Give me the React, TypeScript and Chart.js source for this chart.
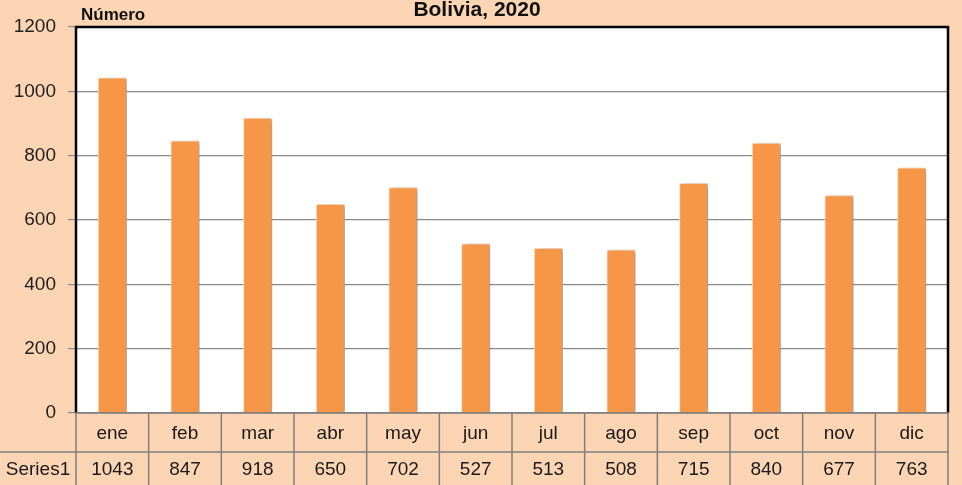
import React, { useEffect, useRef } from "react";
import { Chart, registerables } from "chart.js";

Chart.register(...registerables);

const categories = ["ene", "feb", "mar", "abr", "may", "jun", "jul", "ago", "sep", "oct", "nov", "dic"];
const seriesName = "Series1";
const values = [1043, 847, 918, 650, 702, 527, 513, 508, 715, 840, 677, 763];
const title = "Bolivia, 2020";
const yAxisTitle = "Número";

const FONT = "'Liberation Sans', 'DejaVu Sans', sans-serif";
const BG = "#FCD5B5";
const GRID = "#8a8a8a";

export default function App() {
  const ref = useRef<HTMLCanvasElement | null>(null);

  useEffect(() => {
    document.body.style.margin = "0";
    const canvas = ref.current;
    if (!canvas) return;

    const bgPlugin = {
      id: "bg",
      beforeDraw(chart: any) {
        const { ctx, width, height, chartArea } = chart;
        ctx.save();
        ctx.fillStyle = BG;
        ctx.fillRect(0, 0, width, height);
        ctx.fillStyle = "#ffffff";
        ctx.fillRect(chartArea.left, chartArea.top, chartArea.right - chartArea.left, chartArea.bottom - chartArea.top);
        ctx.restore();
      },
    };

    const shadowPlugin = {
      id: "shadow",
      beforeDatasetDraw(chart: any) {
        const ctx = chart.ctx;
        ctx.save();
        ctx.shadowColor = "rgba(0,0,0,0.35)";
        ctx.shadowBlur = 4;
        ctx.shadowOffsetX = 3;
        ctx.shadowOffsetY = 1;
      },
      afterDatasetDraw(chart: any) {
        chart.ctx.restore();
      },
    };

    const tablePlugin = {
      id: "table",
      afterDraw(chart: any) {
        const { ctx, chartArea, height } = chart;
        const x = chart.scales.x;
        const n = categories.length;
        const left = chartArea.left;
        const right = chartArea.right;
        const colW = (right - left) / n;
        const top = chartArea.bottom;
        const mid = top + 39;
        const bottom = height;
        ctx.save();
        // border of plot
        ctx.strokeStyle = "#000000";
        ctx.lineWidth = 2.5;
        ctx.beginPath();
        ctx.moveTo(left, chartArea.bottom);
        ctx.lineTo(left, chartArea.top);
        ctx.lineTo(right, chartArea.top);
        ctx.lineTo(right, chartArea.bottom);
        ctx.stroke();
        // table lines
        ctx.strokeStyle = "#7f7f7f";
        ctx.lineWidth = 1.5;
        ctx.beginPath();
        ctx.moveTo(left - 1, top);
        ctx.lineTo(right + 1, top);
        ctx.moveTo(0, mid);
        ctx.lineTo(right + 1, mid);
        for (let i = 0; i <= n; i++) {
          const xx = left + i * colW;
          ctx.moveTo(xx, top);
          ctx.lineTo(xx, bottom);
        }
        ctx.stroke();
        // text
        ctx.fillStyle = "#1a1a1a";
        ctx.font = `19px ${FONT}`;
        ctx.textAlign = "center";
        ctx.textBaseline = "middle";
        for (let i = 0; i < n; i++) {
          const cx = x.getPixelForValue(i);
          ctx.fillText(categories[i], cx, (top + mid) / 2 + 1);
          ctx.fillText(String(values[i]), cx, (mid + bottom) / 2 + 1);
        }
        ctx.fillText(seriesName, left / 2, (mid + bottom) / 2 + 1);
        // titles
        ctx.font = `bold 21px ${FONT}`;
        ctx.fillStyle = "#111111";
        ctx.fillText(title, 477, 10);
        ctx.font = `bold 17px ${FONT}`;
        ctx.textAlign = "left";
        ctx.fillText(yAxisTitle, 81, 15);
        ctx.restore();
      },
    };

    const chart = new Chart(canvas, {
      type: "bar",
      data: {
        labels: categories,
        datasets: [
          {
            label: seriesName,
            data: values,
            backgroundColor: "#F79646",
            borderColor: "#FDE3CF",
            borderWidth: 1,
            barPercentage: 0.8,
            categoryPercentage: 0.5,
          },
        ],
      },
      options: {
        animation: false,
        responsive: false,
        maintainAspectRatio: false,
        layout: { padding: { top: 27, right: 14, bottom: 72, left: 0 } },
        plugins: {
          legend: { display: false },
          tooltip: { enabled: false },
          title: { display: false },
        },
        scales: {
          x: {
            display: false,
            offset: true,
          },
          y: {
            min: 0,
            max: 1200,
            ticks: {
              stepSize: 200,
              color: "#222222",
              font: { family: FONT, size: 19 },
              padding: 12,
              callback: (v: any) => String(v),
            },
            grid: {
              color: GRID,
              lineWidth: 1.2,
              drawTicks: true,
              tickLength: 8,
              tickColor: GRID,
            },
            border: { display: false },
            afterFit(scale: any) {
              scale.width = 76;
            },
          },
        },
      },
      plugins: [bgPlugin, shadowPlugin, tablePlugin],
    });

    return () => chart.destroy();
  }, []);

  return (
    <div style={{ width: 962, height: 485 }}>
      <canvas ref={ref} width={962} height={485} style={{ display: "block" }} />
    </div>
  );
}
